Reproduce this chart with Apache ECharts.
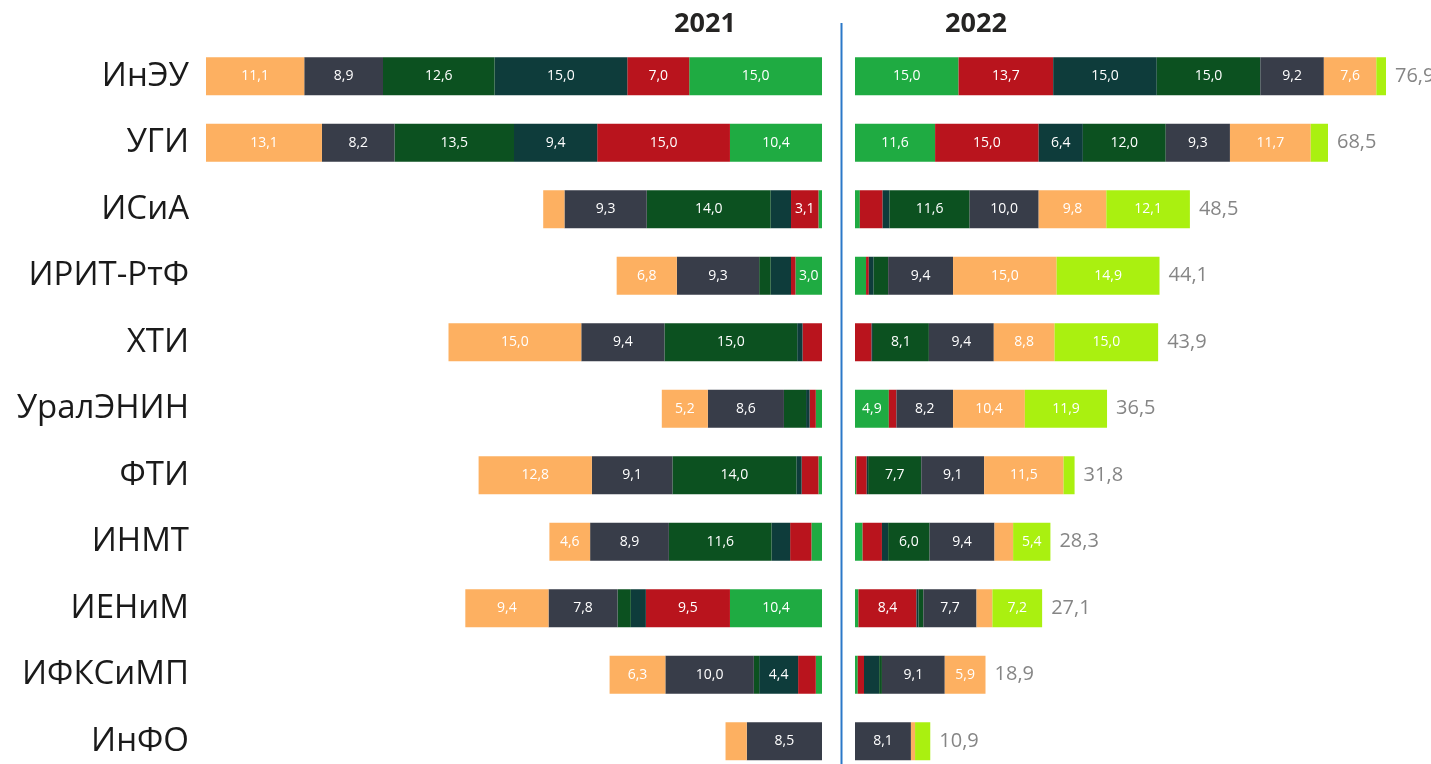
<!DOCTYPE html>
<html>
<head>
<meta charset="utf-8">
<script src="https://cdn.jsdelivr.net/npm/echarts@6/dist/echarts.min.js"></script>
<style>
  html, body { margin: 0; padding: 0; background: #fff; }
  #chart { width: 1431px; height: 764px; }
</style>
</head>
<body>
<div id="chart"></div>
<script>
// институты
const categories = ['ИнЭУ', 'УГИ', 'ИСиА', 'ИРИТ-РтФ', 'ХТИ', 'УралЭНИН', 'ФТИ', 'ИНМТ', 'ИЕНиМ', 'ИФКСиМП', 'ИнФО']
const years = ['2021', '2022']

// 2021, по сегментам (от оси наружу)
const green2021 = [15.0, 10.4, 0.4, 3.0, 0, 0.7, 0.4, 1.2, 10.4, 0.7, 0]
const red2021 = [7.0, 15.0, 3.1, 0.5, 2.2, 0.7, 1.9, 2.4, 9.5, 2.0, 0]
const teal2021 = [15.0, 9.4, 2.3, 2.3, 0.6, 0.4, 0.6, 2.1, 1.7, 4.4, 0]
const dgreen2021 = [12.6, 13.5, 14.0, 1.3, 15.0, 2.5, 14.0, 11.6, 1.5, 0.6, 0]
const gray2021 = [8.9, 8.2, 9.3, 9.3, 9.4, 8.6, 9.1, 8.9, 7.8, 10.0, 8.5]
const orange2021 = [11.1, 13.1, 2.4, 6.8, 15.0, 5.2, 12.8, 4.6, 9.4, 6.3, 2.4]
const lime2021 = [0, 0, 0, 0, 0, 0, 0, 0, 0, 0, 0]

// 2022
const green2022 = [15.0, 11.6, 0.7, 1.6, 0, 4.9, 0.2, 1.1, 0.5, 0.4, 0]
const red2022 = [13.7, 15.0, 3.3, 0.4, 2.4, 1.1, 1.5, 2.8, 8.4, 0.9, 0]
const teal2022 = [15.0, 6.4, 1.0, 0.7, 0.2, 0, 0.2, 0.9, 0.3, 2.2, 0]
const dgreen2022 = [15.0, 12.0, 11.6, 2.1, 8.1, 0, 7.7, 6.0, 0.7, 0.4, 0]
const gray2022 = [9.2, 9.3, 10.0, 9.4, 9.4, 8.2, 9.1, 9.4, 7.7, 9.1, 8.1]
const orange2022 = [7.6, 11.7, 9.8, 15.0, 8.8, 10.4, 11.5, 2.7, 2.3, 5.9, 0.6]
const lime2022 = [1.4, 2.5, 12.1, 14.9, 15.0, 11.9, 1.6, 5.4, 7.2, 0, 2.2]

const colors = ['#1fab42', '#b9141d', '#0e3c3b', '#0c5120', '#383d49', '#fdb061', '#aaf010']
const parts2021 = [green2021, red2021, teal2021, dgreen2021, gray2021, orange2021, lime2021]
const parts2022 = [green2022, red2022, teal2022, dgreen2022, gray2022, orange2022, lime2022]

const font = '"Open Sans", "Noto Sans", sans-serif'
const gridW = [616, 531]

function totals(parts) {
  return categories.map((c, i) => parts.reduce((s, p) => s + p[i], 0))
}
const total2021 = totals(parts2021)
const total2022 = totals(parts2022)
const max2021 = Math.max(...total2021)
const max2022 = Math.max(...total2022)

function fmt(v) {
  return v.toFixed(1).replace('.', ',')
}

// подпись только если сегмент достаточно широкий (~25px)
function makeSeries(parts, idx, max) {
  const minVal = 25 / (gridW[idx] / max)
  return parts.map((data, k) => ({
    type: 'bar',
    stack: 'y' + idx,
    xAxisIndex: idx,
    yAxisIndex: idx,
    barWidth: 38,
    data: data,
    itemStyle: { color: colors[k] },
    label: {
      show: true,
      position: 'inside',
      color: '#fff',
      fontSize: 14,
      fontFamily: font,
      formatter: p => (p.value >= minVal ? fmt(p.value) : '')
    },
    emphasis: { disabled: true }
  }))
}

const mychart = echarts.init(document.getElementById('chart'))
mychart.setOption({
  animation: false,
  grid: [
    { left: 206, width: gridW[0], top: 43, height: 731.5, outerBoundsMode: 'none' },
    { left: 855, width: gridW[1], top: 43, height: 731.5, outerBoundsMode: 'none' }
  ],
  xAxis: [
    { gridIndex: 0, type: 'value', inverse: true, min: 0, max: max2021, show: false },
    { gridIndex: 1, type: 'value', min: 0, max: max2022, show: false }
  ],
  yAxis: [
    {
      gridIndex: 0, type: 'category', inverse: true, data: categories,
      axisLine: { show: false }, axisTick: { show: false },
      axisLabel: { fontSize: 33, color: '#1a1a1a', fontFamily: font, margin: 17 }
    },
    {
      gridIndex: 1, type: 'category', inverse: true, data: categories,
      axisLine: { show: false }, axisTick: { show: false }, axisLabel: { show: false }
    }
  ],
  graphic: [
    { type: 'line', shape: { x1: 841.5, y1: 23, x2: 841.5, y2: 764 }, style: { stroke: '#2b78c8', lineWidth: 2 } },
    { type: 'text', x: 705, y: 24, style: { text: years[0], fontSize: 27, fontWeight: 'bold', fill: '#252423', fontFamily: font, textAlign: 'center', textVerticalAlign: 'middle' } },
    { type: 'text', x: 976, y: 24, style: { text: years[1], fontSize: 27, fontWeight: 'bold', fill: '#252423', fontFamily: font, textAlign: 'center', textVerticalAlign: 'middle' } }
  ],
  series: [
    ...makeSeries(parts2021, 0, max2021),
    ...makeSeries(parts2022, 1, max2022),
    {
      type: 'scatter',
      xAxisIndex: 1,
      yAxisIndex: 1,
      symbolSize: 0,
      data: total2022.map((t, i) => [t, i]),
      label: {
        show: true,
        position: 'right',
        distance: 9,
        color: '#666',
        fontSize: 20,
        fontFamily: font,
        formatter: p => fmt(p.value[0])
      }
    }
  ]
})
</script>
</body>
</html>
